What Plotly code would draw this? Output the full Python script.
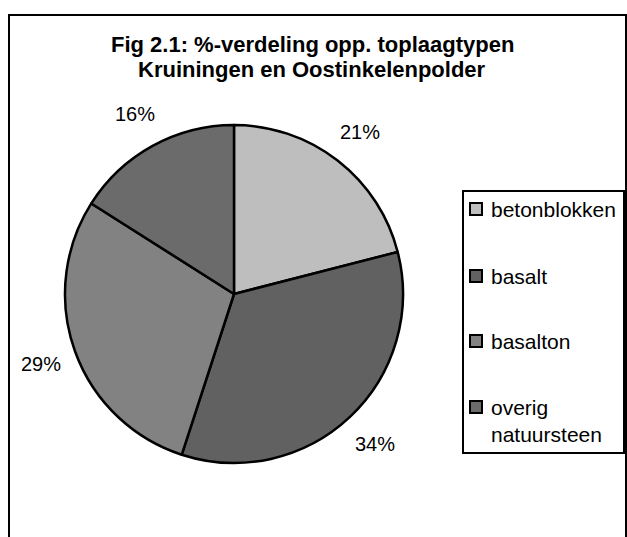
import math
import plotly.graph_objects as go

categories = ["betonblokken", "basalt", "basalton", "overig<br>natuursteen"]
values = [21, 34, 29, 16]
colors = ["#bebebe", "#616161", "#828282", "#6b6b6b"]
title_lines = ["Fig 2.1: %-verdeling opp. toplaagtypen", "Kruiningen en Oostinkelenpolder"]

W, H = 627, 537
cx, cy, r = 234, 294, 169
FONT = "Liberation Sans, Arial"


def px(x):
    return x / W


def py(y):
    return 1 - y / H


fig = go.Figure(go.Pie(
    labels=categories,
    values=values,
    sort=False,
    direction="clockwise",
    rotation=0,
    marker=dict(colors=colors, line=dict(color="black", width=2.5)),
    textinfo="none",
    domain=dict(x=[px(cx - r), px(cx + r)], y=[py(cy + r), py(cy - r)]),
    showlegend=False,
    hoverinfo="label+percent",
))

annotations = []
# title
for i, line in enumerate(title_lines):
    annotations.append(dict(
        text="<b>" + line + "</b>", xref="paper", yref="paper",
        x=px(312), y=py(44 + 26 * i), xanchor="center", yanchor="middle",
        showarrow=False, font=dict(size=22, family=FONT, color="black"),
    ))

# percentage labels, placed along each slice's mid-angle
total = sum(values)
cum = 0
R_lab = r * 1.215
for v in values:
    mid = math.radians((cum + v / 2) / total * 360)
    cum += v
    lx = cx + R_lab * math.sin(mid)
    ly = cy - R_lab * math.cos(mid)
    annotations.append(dict(
        text=f"{v}%", xref="paper", yref="paper", x=px(lx), y=py(ly),
        xanchor="center", yanchor="middle", showarrow=False,
        font=dict(size=20, family=FONT, color="black"),
    ))

# outer chart border and legend box (legend drawn manually to match spacing)
shapes = [
    dict(type="rect", xref="paper", yref="paper",
         x0=px(9), x1=px(626), y0=py(600), y1=py(15),
         line=dict(color="black", width=2), fillcolor="rgba(0,0,0,0)", layer="below"),
    dict(type="rect", xref="paper", yref="paper",
         x0=px(463), x1=px(624), y0=py(453), y1=py(191),
         line=dict(color="black", width=2), fillcolor="white", layer="below"),
]
leg_y = [209, 276, 341, 407]
for i, (cat, col) in enumerate(zip(categories, colors)):
    yc = leg_y[i]
    shapes.append(dict(type="rect", xref="paper", yref="paper",
                       x0=px(470), x1=px(482), y0=py(yc + 6), y1=py(yc - 6),
                       line=dict(color="black", width=2), fillcolor=col, layer="above"))
    if "<br>" in cat:
        annotations.append(dict(
            text=cat, xref="paper", yref="paper", x=px(489), y=py(yc - 13),
            xanchor="left", yanchor="top", align="left", showarrow=False,
            font=dict(size=21, family=FONT, color="black"),
        ))
    else:
        annotations.append(dict(
            text=cat, xref="paper", yref="paper", x=px(489), y=py(yc),
            xanchor="left", yanchor="middle", align="left", showarrow=False,
            font=dict(size=21, family=FONT, color="black"),
        ))

fig.update_layout(
    width=W, height=H,
    margin=dict(l=0, r=0, t=0, b=0),
    paper_bgcolor="white",
    plot_bgcolor="white",
    font=dict(family=FONT, color="black"),
    showlegend=False,
    annotations=annotations,
    shapes=shapes,
)

fig.write_html("out.html", config={"displayModeBar": False},
               post_script="document.body.style.margin='0px';")
